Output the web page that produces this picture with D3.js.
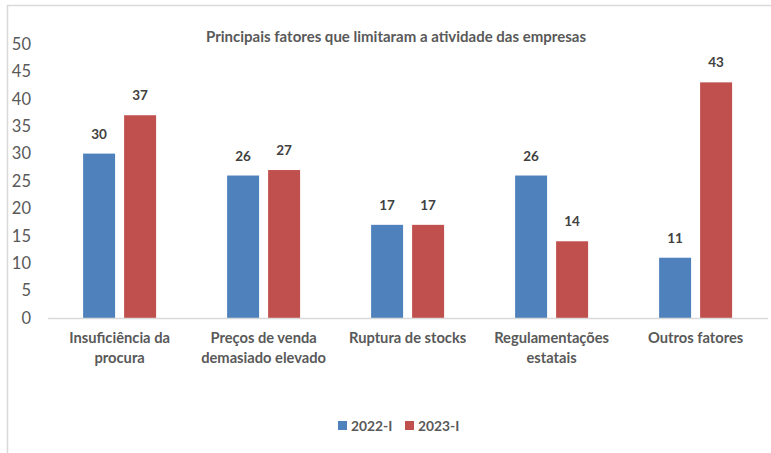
<!DOCTYPE html>
<html>
<head>
<meta charset="utf-8">
<script src="https://cdn.jsdelivr.net/npm/d3@7"></script>
<style>
  body { margin: 0; background: #fff; }
  svg text { font-family: Lato, "Open Sans", sans-serif; }
</style>
</head>
<body>
<svg id="chart" width="771" height="453"></svg>
<script>
// dados do gráfico
const categories = [
  "Insuficiência da\nprocura",
  "Preços de venda\ndemasiado elevado",
  "Ruptura de stocks",
  "Regulamentações\nestatais",
  "Outros fatores"
];
const seriesNames = ["2022-I", "2023-I"];
const values2022 = [30, 26, 17, 26, 11];
const values2023 = [37, 27, 17, 14, 43];
const yTicks = [0, 5, 10, 15, 20, 25, 30, 35, 40, 45, 50];
const title = "Principais fatores que limitaram a atividade das empresas";

const colors = { "2022-I": "#4F81BD", "2023-I": "#C0504D" };
const rows = categories.map((c, i) => ({ cat: c, "2022-I": values2022[i], "2023-I": values2023[i] }));

const svg = d3.select("#chart");

// moldura
svg.append("rect")
  .attr("x", 7.5).attr("y", 5.5)
  .attr("width", 800).attr("height", 500)
  .attr("fill", "none")
  .attr("stroke", "#d9d9d9")
  .attr("stroke-width", 1.5);

const plot = { left: 47.6, right: 767.6, top: 44, bottom: 318 };

const x0 = d3.scaleBand().domain(categories).range([plot.left, plot.right]).padding(0);
const x1 = d3.scaleBand().domain(seriesNames)
  .range([0, x0.bandwidth()])
  .paddingInner(0.22).paddingOuter(0.866);
const y = d3.scaleLinear().domain([0, 50]).range([plot.bottom, plot.top]);

// título
svg.append("text")
  .attr("x", 396).attr("y", 42)
  .attr("text-anchor", "middle")
  .attr("font-size", 15).attr("font-weight", "bold")
  .attr("fill", "#595959")
  .text(title);

// eixo Y (só rótulos)
const yAxis = svg.append("g")
  .attr("transform", `translate(31,0)`)
  .call(d3.axisLeft(y).tickValues(yTicks).tickSize(0).tickPadding(0));
yAxis.select(".domain").remove();
yAxis.selectAll("text")
  .attr("font-size", 16.5)
  .attr("fill", "#595959")
  .style("font-family", "Lato, 'Open Sans', sans-serif");

// barras
const groups = svg.append("g").selectAll("g")
  .data(rows).join("g")
  .attr("transform", d => `translate(${x0(d.cat)},0)`);

groups.selectAll("rect")
  .data(d => seriesNames.map(s => ({ s, v: d[s] })))
  .join("rect")
  .attr("x", d => x1(d.s))
  .attr("width", x1.bandwidth())
  .attr("y", d => y(d.v))
  .attr("height", d => y(0) - y(d.v))
  .attr("fill", d => colors[d.s]);

groups.selectAll("text.val")
  .data(d => seriesNames.map(s => ({ s, v: d[s] })))
  .join("text")
  .attr("class", "val")
  .attr("x", d => x1(d.s) + x1.bandwidth() / 2)
  .attr("y", d => y(d.v) - 15)
  .attr("text-anchor", "middle")
  .attr("font-size", 13.5).attr("font-weight", "bold")
  .attr("fill", "#404040")
  .text(d => d.v);

// eixo X
const xAxis = svg.append("g")
  .attr("transform", `translate(0,${plot.bottom})`)
  .call(d3.axisBottom(x0).tickSize(0).tickFormat(""));
xAxis.select(".domain")
  .attr("stroke", "#d9d9d9")
  .attr("stroke-width", 1.5);

xAxis.selectAll(".tick").each(function (d) {
  const t = d3.select(this).append("text")
    .attr("text-anchor", "middle")
    .attr("font-size", 14.7).attr("font-weight", "bold")
    .attr("fill", "#595959");
  d.split("\n").forEach((line, i) => {
    t.append("tspan").attr("x", 0).attr("y", 25 + i * 20).text(line);
  });
});

// legenda
const legendItems = [{ s: "2022-I", x: 338 }, { s: "2023-I", x: 405 }];
const legend = svg.append("g").selectAll("g")
  .data(legendItems).join("g")
  .attr("transform", d => `translate(${d.x},421)`);
legend.append("rect")
  .attr("width", 9).attr("height", 9)
  .attr("fill", d => colors[d.s]);
legend.append("text")
  .attr("x", 13).attr("y", 9.5)
  .attr("font-size", 13.8).attr("font-weight", "bold")
  .attr("fill", "#595959")
  .text(d => d.s);
</script>
</body>
</html>
